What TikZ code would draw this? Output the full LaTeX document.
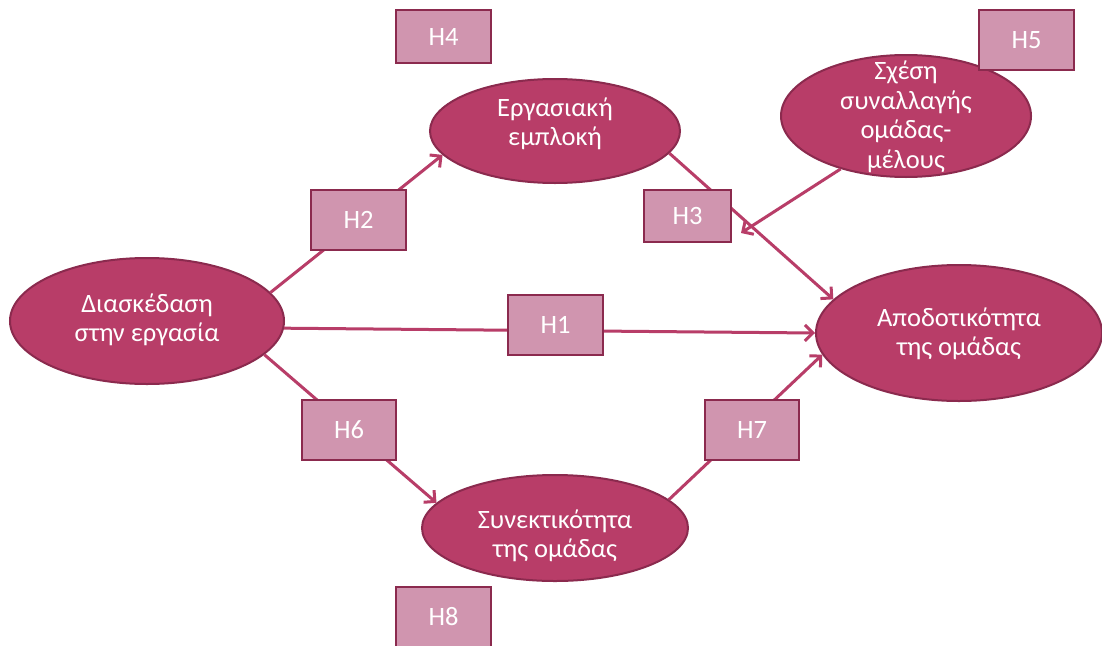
\documentclass[tikz,border=0pt]{standalone}
\usepackage{fontspec}
\setmainfont{Carlito}
\usetikzlibrary{shapes.geometric,arrows.meta}
\definecolor{ellfill}{HTML}{B83D68}
\definecolor{ellline}{HTML}{8B2A4E}
\definecolor{boxfill}{HTML}{D095AF}
\definecolor{arrowcol}{HTML}{B83D68}
\tikzset{
  ell/.style={ellipse, fill=ellfill, draw=ellline, line width=2pt, inner sep=0pt},
  elltext/.style={text=white, align=center, inner sep=0pt, font=\fontsize{26.5}{29.5}\selectfont},
  hbox/.style={rectangle, fill=boxfill, draw=ellline, line width=2pt, inner sep=0pt,
    text=white, font=\fontsize{26.5}{29.5}\selectfont},
  conn/.style={draw=arrowcol, line width=3pt,
    -{Straight Barb[length=8pt,width=16pt,line width=3pt]}}
}
\begin{document}
\begin{tikzpicture}[x=1pt,y=-1pt]
\clip (0,0) rectangle (1102,645);
\fill[white] (0,0) rectangle (1102,645);
% ellipses
\node[ell, minimum width=274pt, minimum height=126pt,
  label={[elltext, yshift=1pt]center:{Διασκέδαση\\στην εργασία}}] (d) at (147,321) {};
\node[ell, minimum width=250pt, minimum height=104pt,
  label={[elltext, yshift=7pt]center:{Εργασιακή\\εμπλοκή}}] (e) at (555,131) {};
\node[ell, minimum width=250pt, minimum height=122pt,
  label={[elltext, yshift=-1pt]center:{Σχέση\\συναλλαγής\\ομάδας-\\μέλους}}] (s) at (906,116) {};
\node[ell, minimum width=286pt, minimum height=136pt,
  label={[elltext, yshift=-1pt]center:{Αποδοτικότητα\\της ομάδας}}] (a) at (959,333) {};
\node[ell, minimum width=266pt, minimum height=106pt,
  label={[elltext, yshift=-8pt]center:{Συνεκτικότητα\\της ομάδας}}] (y) at (555,528) {};
% connectors
\coordinate (m) at (741,233);
\draw[conn] (d.13) -- (e.192);
\draw[conn] (e.-11) -- (a.165);
\draw[conn] (s.219) -- (m);
\draw[conn] (d.-3) -- (a.180);
\draw[conn] (d.-16.5) -- (y.168);
\draw[conn] (y.14) -- (a.189);
% boxes
\node[hbox, minimum width=95pt, minimum height=53pt] (h4) at (443.5,36.5) {H4};
\node[hbox, minimum width=95pt, minimum height=60pt] (h5) at (1026.5,40) {H5};
\node[hbox, minimum width=95pt, minimum height=60pt] (h2) at (358.5,220) {H2};
\node[hbox, minimum width=87pt, minimum height=52pt] (h3) at (687.5,216) {H3};
\node[hbox, minimum width=95pt, minimum height=60pt] (h1) at (555.5,325) {H1};
\node[hbox, minimum width=94pt, minimum height=60pt] (h6) at (349,430) {H6};
\node[hbox, minimum width=94pt, minimum height=60pt] (h7) at (752,430) {H7};
\node[hbox, minimum width=95pt, minimum height=60pt] (h8) at (443.5,617) {H8};
\end{tikzpicture}
\end{document}
